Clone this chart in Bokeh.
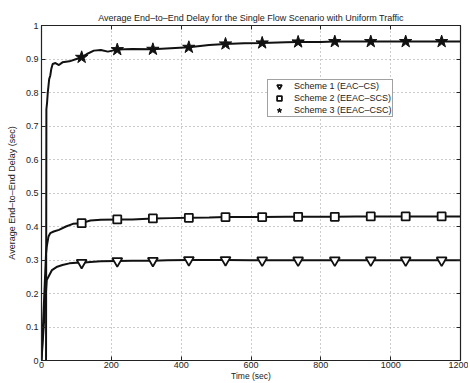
from bokeh.plotting import figure
from bokeh.models import LinearAxis, FixedTicker, Legend, LegendItem, Range1d
from bokeh.embed import file_html
from bokeh.resources import INLINE

title_text = "Average End\u2013to\u2013End Delay for the Single Flow Scenario with Uniform Traffic"
x_label = "Time (sec)"
y_label = "Average End\u2013to\u2013End Delay (sec)"
names = ["Scheme 1 (EAC\u2013CS)", "Scheme 2 (EEAC\u2013SCS)", "Scheme 3 (EEAC\u2013CSC)"]

x_ticks = [0, 200, 400, 600, 800, 1000, 1200]
y_ticks = [0, 0.1, 0.2, 0.3, 0.4, 0.5, 0.6, 0.7, 0.8, 0.9, 1.0]

# Scheme 1 line
t1 = [0, 15, 20, 30, 45, 60, 80, 100, 115, 140, 170, 217, 260, 319, 360, 422, 480, 527,
      600, 632, 700, 735, 800, 840, 900, 943, 1000, 1043, 1100, 1146, 1200]
v1 = [0, 0.24, 0.25, 0.27, 0.28, 0.285, 0.29, 0.292, 0.292, 0.294, 0.296, 0.297, 0.298, 0.298,
      0.299, 0.300, 0.300, 0.300, 0.299, 0.299, 0.299, 0.299, 0.299, 0.299, 0.299, 0.299,
      0.299, 0.299, 0.299, 0.299, 0.299]
# Scheme 2 line
t2 = [0, 13, 15, 20, 25, 35, 50, 70, 90, 115, 140, 170, 217, 260, 319, 370, 422, 480, 527,
      600, 632, 700, 735, 800, 840, 900, 943, 1000, 1043, 1100, 1146, 1200]
v2 = [0, 0.32, 0.34, 0.37, 0.38, 0.385, 0.39, 0.40, 0.408, 0.41, 0.418, 0.42, 0.421, 0.421,
      0.424, 0.425, 0.426, 0.427, 0.428, 0.428, 0.428, 0.429, 0.429, 0.429, 0.429, 0.43,
      0.43, 0.43, 0.43, 0.43, 0.43, 0.43]
# Scheme 3 line
t3 = [13, 14, 16, 18, 20, 22, 25, 28, 32, 40, 50, 60, 80, 100, 115, 130, 150, 170, 190, 217,
      260, 319, 370, 422, 480, 527, 580, 632, 700, 735, 800, 840, 900, 943, 1000, 1043, 1100,
      1146, 1200]
v3 = [0, 0.75, 0.77, 0.80, 0.82, 0.84, 0.85, 0.87, 0.885, 0.888, 0.882, 0.89, 0.893, 0.90,
      0.905, 0.915, 0.925, 0.927, 0.922, 0.928, 0.93, 0.929, 0.932, 0.935, 0.942, 0.945,
      0.947, 0.948, 0.95, 0.951, 0.951, 0.952, 0.952, 0.952, 0.952, 0.952, 0.952, 0.952, 0.952]

# marker positions
mt = [115, 217, 319, 422, 527, 632, 735, 840, 943, 1043, 1146]
m1 = [0.292, 0.297, 0.298, 0.300, 0.300, 0.299, 0.299, 0.299, 0.299, 0.299, 0.299]
m2 = [0.41, 0.421, 0.424, 0.426, 0.428, 0.428, 0.429, 0.429, 0.43, 0.43, 0.43]
m3 = [0.905, 0.928, 0.929, 0.935, 0.945, 0.948, 0.951, 0.952, 0.952, 0.952, 0.952]

FONT = "Liberation Sans"
TXT = "#222222"

p = figure(frame_width=419, frame_height=335, output_backend="svg", toolbar_location=None,
           x_range=Range1d(0, 1200), y_range=Range1d(0, 1),
           min_border_left=41, min_border_right=8, min_border_top=25, min_border_bottom=20,
           background_fill_color="white", border_fill_color="white")

p.title.text = title_text
p.title.align = "center"
p.title.text_font = FONT
p.title.text_font_size = "9px"
p.title.text_font_style = "normal"
p.title.text_color = TXT
p.title.offset = 0
p.title.standoff = 6

p.outline_line_color = "#222222"
p.outline_line_width = 1.2

for ax in [p.xaxis[0], p.yaxis[0]]:
    ax.major_label_text_font = FONT
    ax.major_label_text_font_size = "9px"
    ax.major_label_text_color = TXT
    ax.axis_label_text_font = FONT
    ax.axis_label_text_font_size = "9px"
    ax.axis_label_text_font_style = "normal"
    ax.axis_label_text_color = TXT
    ax.major_tick_in = 4
    ax.major_tick_out = 0
    ax.minor_tick_in = 0
    ax.minor_tick_out = 0
    ax.axis_line_color = "#222222"
    ax.major_tick_line_color = "#222222"
    ax.major_label_standoff = 3
    ax.axis_label_standoff = 3

p.xaxis[0].ticker = FixedTicker(ticks=x_ticks)
p.yaxis[0].ticker = FixedTicker(ticks=y_ticks)
p.xaxis[0].axis_label = x_label
p.xaxis[0].major_label_standoff = 1
p.xaxis[0].axis_label_standoff = 0
p.xaxis[0].axis_label_text_font_size = "8.5px"
p.yaxis[0].axis_label = y_label
p.yaxis[0].major_label_overrides = {0: "0", 1: "1"}
p.yaxis[0].axis_label_standoff = 6

for loc, ticks in [("right", y_ticks), ("above", x_ticks)]:
    ax = LinearAxis(ticker=FixedTicker(ticks=ticks),
                    major_label_overrides={t: "" for t in ticks},
                    major_tick_in=4, major_tick_out=0, minor_tick_in=0, minor_tick_out=0,
                    major_label_standoff=0, axis_line_color="#222222",
                    major_tick_line_color="#222222", major_label_text_font_size="1px")
    p.add_layout(ax, loc)

p.xgrid.ticker = FixedTicker(ticks=x_ticks)
p.ygrid.ticker = FixedTicker(ticks=y_ticks)
for g in [p.xgrid[0], p.ygrid[0]]:
    g.grid_line_color = "#999999"
    g.grid_line_dash = "1 3"
    g.grid_line_width = 1

lc = "#111111"
p.line(t1, v1, line_color=lc, line_width=2)
p.line(t2, v2, line_color=lc, line_width=2)
p.line(t3, v3, line_color=lc, line_width=2)

r1 = p.scatter(mt, m1, marker="inverted_triangle", size=10, fill_color="white",
               line_color=lc, line_width=1.8)
r2 = p.scatter(mt, m2, marker="square", size=8, fill_color="white",
               line_color=lc, line_width=1.8)
r3 = p.scatter(mt, m3, marker="star", size=13, fill_color=lc,
               line_color=lc, line_width=1)

legend = Legend(items=[LegendItem(label=names[0], renderers=[r1]),
                       LegendItem(label=names[1], renderers=[r2]),
                       LegendItem(label=names[2], renderers=[r3])],
                location=(226, 243))
legend.label_text_font = FONT
legend.label_text_font_size = "9px"
legend.label_text_color = TXT
legend.label_height = 10
legend.glyph_height = 12
legend.glyph_width = 22
legend.spacing = 0
legend.padding = 0
legend.margin = 0
legend.label_standoff = 4
legend.border_line_color = "#444444"
legend.border_line_width = 1
legend.background_fill_color = "white"
legend.background_fill_alpha = 1
p.add_layout(legend, "center")

open("out.html", "w").write(file_html(p, INLINE))
